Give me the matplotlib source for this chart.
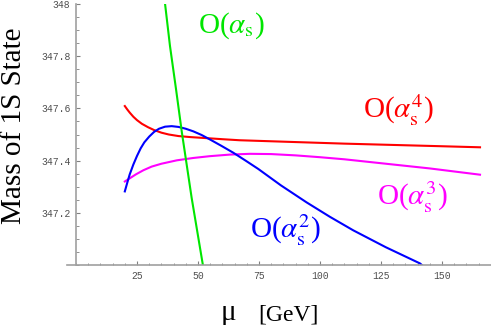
import matplotlib
matplotlib.use("Agg")
import matplotlib.pyplot as plt
from matplotlib.ticker import MultipleLocator, FixedLocator

# ---- data ----
mu_red = [20, 21, 22, 23.5, 25, 27, 29.5, 32, 35, 38, 42, 47, 53.6, 60, 67, 90,
          110, 130, 150, 165.6]
m_red = [347.609, 347.596, 347.584, 347.568, 347.555, 347.541, 347.528, 347.517,
         347.507, 347.500, 347.494, 347.490, 347.486, 347.482, 347.478, 347.471,
         347.465, 347.460, 347.455, 347.451]

mu_blue = [20, 21, 22, 23.5, 25, 26.5, 28, 30, 32, 34, 36.5, 39.2, 42, 45, 48.1,
           51.5, 54.9, 59.5, 64.5, 69.5, 74.7, 84, 94.5, 104, 113.6, 127, 141, 142]
m_blue = [347.282, 347.315, 347.347, 347.385, 347.418, 347.447, 347.470, 347.492,
          347.510, 347.522, 347.530, 347.532, 347.529, 347.522, 347.512, 347.498,
          347.481, 347.457, 347.430, 347.400, 347.368, 347.305, 347.240, 347.185,
          347.133, 347.068, 347.006, 346.998]

mu_mag = [20, 22, 24.5, 27.6, 31, 35, 41.3, 48, 54.9, 63, 71.3, 80, 90, 100, 110,
          125, 145, 165.6]
m_mag = [347.32, 347.332, 347.347, 347.363, 347.377, 347.388, 347.401, 347.41,
         347.417, 347.423, 347.426, 347.425, 347.420, 347.413, 347.405, 347.39,
         347.37, 347.346]

mu_green = [36.0, 36.5, 38.5, 41.0, 43.4, 47.4, 52.0, 52.4]
m_green = [348.03, 348.0, 347.84, 347.673, 347.507, 347.257, 347.0, 346.98]

x_ticks = [25, 50, 75, 100, 125, 150]
y_ticks = [347.2, 347.4, 347.6, 347.8, 348.0]
y_tick_labels = ["347.2", "347.4", "347.6", "347.8", "348"]

labels = {
    "green": r"O($\alpha_\mathrm{s}$)",
    "red": r"O($\alpha_\mathrm{s}^4$)",
    "magenta": r"O($\alpha_\mathrm{s}^3$)",
    "blue": r"O($\alpha_\mathrm{s}^2$)",
}

plt.rcParams["mathtext.fontset"] = "stix"

W, H = 491, 325
fig = plt.figure(figsize=(W / 100, H / 100), dpi=100)
ax = fig.add_axes([67 / W, (H - 265) / H, (W - 67) / W, (265 - 4) / H])
ax.set_xlim(-3.7, 170.1)
ax.set_ylim(347.0, 348.0)

GREEN = "#00e600"
ax.plot(mu_red, m_red, color="#ff0000", lw=1.5)
ax.plot(mu_mag, m_mag, color="#ff00ff", lw=1.5)
ax.plot(mu_blue, m_blue, color="#0000ff", lw=1.5)
ax.plot(mu_green, m_green, color=GREEN, lw=1.5)

for s in ["top", "right"]:
    ax.spines[s].set_visible(False)
ax.spines["left"].set_position(("data", 0))
for s in ["left", "bottom"]:
    ax.spines[s].set_color("#a0a0a0")
    ax.spines[s].set_linewidth(1.2)

ax.xaxis.set_major_locator(FixedLocator(x_ticks))
ax.xaxis.set_minor_locator(MultipleLocator(5))
ax.yaxis.set_major_locator(FixedLocator(y_ticks))
ax.set_yticklabels(y_tick_labels)
ax.yaxis.set_minor_locator(MultipleLocator(0.05))
ax.tick_params(which="major", direction="in", length=3, width=0.8, color="#808080",
               labelsize=7, labelcolor="#505050")
ax.tick_params(which="minor", direction="in", length=1.8, width=0.6, color="#808080")
ax.tick_params(axis="x", pad=4)
ax.tick_params(axis="y", pad=4)
for lab in ax.get_xticklabels() + ax.get_yticklabels():
    lab.set_family("Liberation Mono")

def ftext(px, py, s, **kw):
    fig.text(px / W, 1 - py / H, s, **kw)

ftext(198, 33, labels["green"], color=GREEN, fontsize=21, family="Liberation Serif",
      ha="left", va="baseline")
ftext(363, 118, labels["red"], color="#ff0000", fontsize=21, family="Liberation Serif",
      ha="left", va="baseline")
ftext(377, 205, labels["magenta"], color="#ff00ff", fontsize=21, family="Liberation Serif",
      ha="left", va="baseline")
ftext(250, 238, labels["blue"], color="#0000ff", fontsize=21, family="Liberation Serif",
      ha="left", va="baseline")

ftext(14, 126, "Mass of 1S State", rotation=90, fontsize=21, family="Liberation Serif",
      ha="center", va="center")
ftext(228, 320, "\u03bc", fontsize=21, family="Liberation Serif", ha="center", va="baseline")
ftext(258, 320, "[GeV]", fontsize=17, family="Liberation Serif", ha="left", va="baseline")

fig.savefig("out.png", dpi=100)
